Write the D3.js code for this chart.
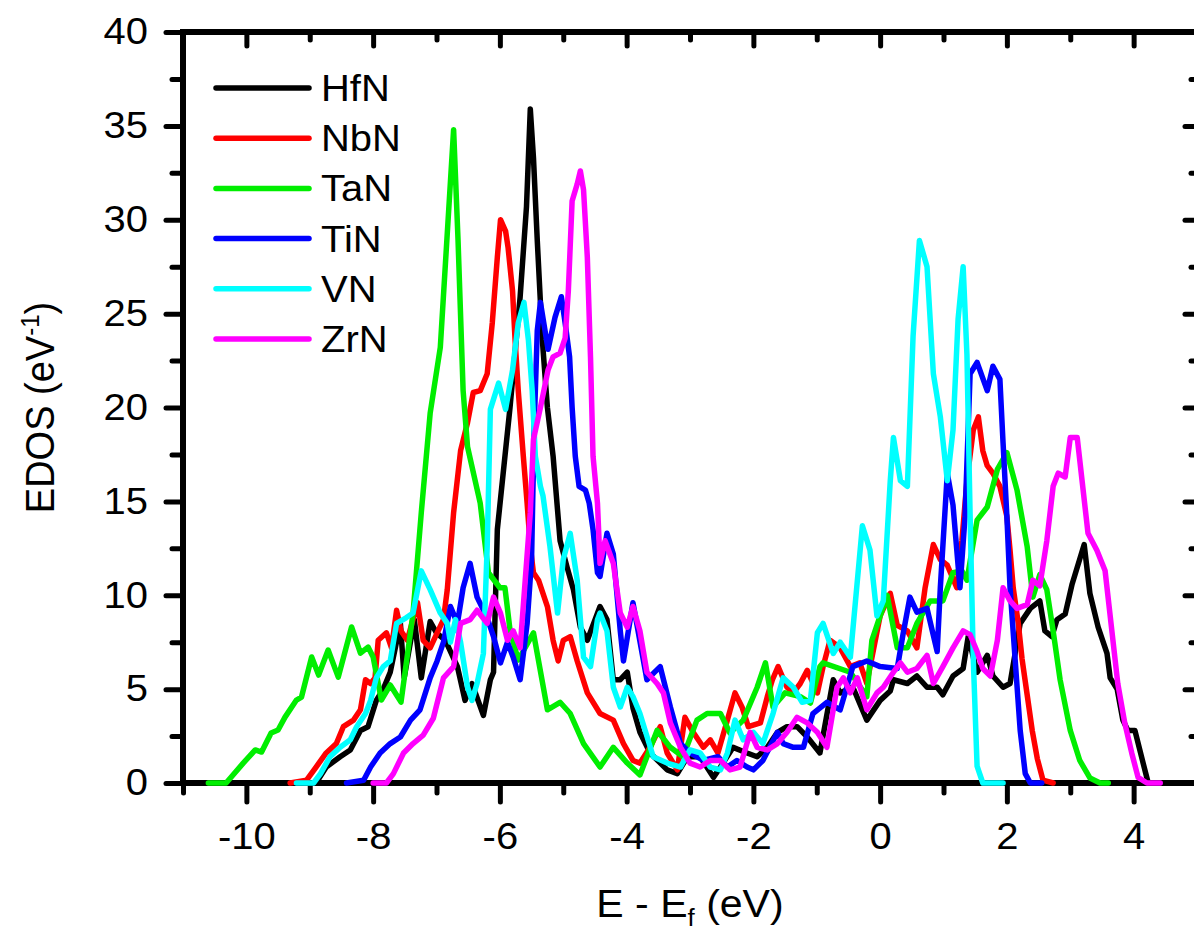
<!DOCTYPE html>
<html>
<head>
<meta charset="utf-8">
<script src="https://cdn.jsdelivr.net/npm/d3@7"></script>
<style>
body{margin:0;background:#fff;}
svg{display:block;font-family:"Liberation Sans",Arial,sans-serif;}
</style>
</head>
<body>
<svg></svg>
<script>
// EDOS data : [E - Ef (eV), EDOS (1/eV)]
const hfn_pts = [[-8.95,0],[-8.90,0],[-8.74,0.85],[-8.52,1.4],[-8.36,1.76],[-8.20,2.8],[-8.08,3.0],[-7.95,4.4],[-7.84,5.0],[-7.73,5.9],[-7.57,8.5],[-7.51,5.6],[-7.35,8.7],[-7.24,5.6],[-7.10,8.6],[-7.0,8.0],[-6.86,7.6],[-6.67,6.2],[-6.55,4.4],[-6.44,5.3],[-6.26,3.6],[-6.15,5.5],[-6.10,5.9],[-6.04,13.5],[-5.84,20.0],[-5.68,25.9],[-5.58,30.7],[-5.52,35.9],[-5.47,33.3],[-5.41,28.9],[-5.33,23.6],[-5.25,20.0],[-5.16,17.4],[-5.05,12.9],[-4.94,11.5],[-4.84,10.3],[-4.73,8.3],[-4.62,7.6],[-4.42,9.4],[-4.31,8.7],[-4.21,5.5],[-4.10,5.5],[-3.99,5.9],[-3.90,4.0],[-3.79,2.7],[-3.63,1.6],[-3.36,0.7],[-3.20,0.5],[-3.04,1.4],[-2.84,1.4],[-2.63,0.3],[-2.52,0.85],[-2.32,1.9],[-2.10,1.6],[-1.94,1.4],[-1.78,1.9],[-1.62,2.7],[-1.47,3.0],[-1.31,3.0],[-1.15,2.45],[-0.95,1.6],[-0.74,5.5],[-0.63,4.8],[-0.43,5.1],[-0.21,3.35],[0,4.4],[0.16,4.9],[0.21,5.5],[0.43,5.3],[0.58,5.7],[0.74,5.1],[0.90,5.1],[0.99,4.7],[1.15,5.7],[1.31,6.1],[1.39,7.8],[1.53,5.9],[1.69,6.8],[1.78,5.7],[1.94,5.1],[2.05,5.3],[2.21,8.5],[2.37,9.3],[2.52,9.7],[2.60,8.1],[2.71,7.8],[2.79,8.7],[2.92,9.0],[3.03,10.6],[3.22,12.7],[3.31,10.1],[3.44,8.3],[3.58,6.9],[3.63,5.6],[3.74,5.0],[3.83,3.35],[3.91,2.8],[4.02,2.8],[4.15,1.06],[4.23,0]];
const nbn_pts = [[-9.31,0],[-9.05,0.15],[-8.9,0.85],[-8.74,1.6],[-8.58,2.1],[-8.47,3.0],[-8.31,3.35],[-8.20,3.9],[-8.12,5.5],[-8.04,5.3],[-7.97,5.6],[-7.92,7.6],[-7.79,8.0],[-7.71,7.2],[-7.63,9.2],[-7.56,8.1],[-7.46,7.6],[-7.30,9.6],[-7.21,7.6],[-7.10,7.2],[-6.99,8.0],[-6.89,8.7],[-6.83,10.3],[-6.73,14.4],[-6.62,17.7],[-6.51,19.2],[-6.42,20.8],[-6.31,20.9],[-6.20,21.8],[-6.12,24.5],[-6.04,28.0],[-5.99,30.0],[-5.91,29.4],[-5.87,28.5],[-5.80,26.2],[-5.76,23.6],[-5.71,20.9],[-5.63,17.4],[-5.57,14.9],[-5.52,12.6],[-5.47,11.2],[-5.39,10.8],[-5.25,9.4],[-5.16,7.6],[-5.08,6.5],[-5.0,7.6],[-4.89,7.8],[-4.78,6.5],[-4.62,4.8],[-4.42,3.7],[-4.21,3.35],[-4.05,2.1],[-3.90,1.2],[-3.79,1.06],[-3.63,1.9],[-3.47,3.0],[-3.36,1.6],[-3.20,0.7],[-3.08,3.5],[-2.95,2.7],[-2.79,1.9],[-2.68,2.3],[-2.56,1.6],[-2.41,3.35],[-2.29,4.8],[-2.18,4.05],[-2.08,3.0],[-1.89,3.2],[-1.78,4.6],[-1.70,5.5],[-1.61,6.2],[-1.47,5.1],[-1.37,4.8],[-1.26,5.3],[-1.15,6.0],[-0.99,4.8],[-0.90,6.2],[-0.79,7.6],[-0.63,7.2],[-0.47,6.2],[-0.32,6.4],[-0.21,5.3],[0,8.9],[0.16,10.1],[0.27,8.4],[0.43,8.1],[0.58,7.2],[0.71,10.4],[0.84,12.7],[0.95,11.9],[1.06,11.6],[1.21,10.4],[1.29,12.9],[1.37,16.1],[1.47,18.8],[1.55,19.5],[1.62,17.7],[1.69,16.9],[1.78,16.5],[1.89,15.8],[2.0,14.2],[2.05,12.4],[2.10,10.4],[2.18,8.5],[2.24,6.6],[2.32,4.7],[2.40,2.8],[2.48,1.3],[2.57,0.15],[2.73,0]];
const tan_pts = [[-10.6,0],[-10.32,0],[-10.05,1.06],[-9.86,1.76],[-9.76,1.65],[-9.61,2.66],[-9.50,2.82],[-9.39,3.51],[-9.21,4.42],[-9.13,4.58],[-8.97,6.71],[-8.86,5.75],[-8.71,7.08],[-8.55,5.64],[-8.34,8.31],[-8.20,6.92],[-8.08,7.24],[-8.0,6.71],[-7.87,4.42],[-7.73,5.22],[-7.56,4.31],[-7.37,9.05],[-7.24,14.4],[-7.10,19.7],[-6.94,23.2],[-6.73,34.8],[-6.66,28.9],[-6.58,20.9],[-6.51,17.9],[-6.31,14.9],[-6.18,11.2],[-6.0,10.4],[-5.92,10.4],[-5.84,8.15],[-5.71,6.55],[-5.47,8.0],[-5.25,3.9],[-5.05,4.3],[-4.89,3.7],[-4.68,2.1],[-4.42,0.85],[-4.21,1.9],[-3.99,1.06],[-3.79,0.43],[-3.52,2.8],[-3.31,1.9],[-3.11,1.4],[-2.89,3.35],[-2.73,3.7],[-2.52,3.7],[-2.37,2.66],[-2.16,3.35],[-1.94,5.1],[-1.81,6.4],[-1.69,4.05],[-1.50,4.8],[-1.26,4.6],[-1.10,4.26],[-0.95,6.2],[-0.90,6.4],[-0.47,5.9],[-0.21,4.6],[-0.13,7.6],[0.11,10.0],[0.27,7.2],[0.43,7.2],[0.58,8.5],[0.79,9.7],[0.99,9.7],[1.15,11.2],[1.29,11.3],[1.37,10.8],[1.53,14.0],[1.69,14.7],[1.85,16.7],[2.0,17.6],[2.16,15.6],[2.32,12.6],[2.41,9.9],[2.52,11.1],[2.63,10.3],[2.73,8.1],[2.84,5.5],[3.0,2.8],[3.15,1.2],[3.31,0.27],[3.47,0],[3.6,0]];
const tin_pts = [[-8.42,0],[-8.15,0.15],[-8.04,0.85],[-7.89,1.6],[-7.73,2.1],[-7.57,2.45],[-7.41,3.35],[-7.26,3.9],[-7.10,5.6],[-6.99,6.5],[-6.89,7.5],[-6.78,9.4],[-6.67,8.5],[-6.58,10.4],[-6.47,11.7],[-6.36,9.9],[-6.20,8.8],[-6.10,7.8],[-5.99,6.4],[-5.88,7.5],[-5.79,6.7],[-5.68,5.5],[-5.57,8.5],[-5.50,11.9],[-5.46,18.8],[-5.41,24.1],[-5.36,25.6],[-5.24,23.1],[-5.13,24.8],[-5.03,25.9],[-4.97,24.5],[-4.90,22.7],[-4.86,20.0],[-4.81,17.4],[-4.75,15.8],[-4.65,15.6],[-4.59,14.9],[-4.53,13.5],[-4.46,11.2],[-4.42,11.0],[-4.31,13.3],[-4.21,12.2],[-4.10,8.1],[-4.05,6.5],[-3.90,9.6],[-3.68,5.5],[-3.47,6.2],[-3.31,4.05],[-3.15,2.1],[-3.0,1.6],[-2.79,1.2],[-2.56,1.4],[-2.41,0.85],[-2.26,1.2],[-2.10,0.85],[-2.0,0.7],[-1.85,1.2],[-1.62,2.7],[-1.53,2.1],[-1.37,1.9],[-1.21,1.9],[-1.06,3.7],[-0.84,4.3],[-0.63,3.9],[-0.43,6.2],[-0.21,6.5],[0,6.2],[0.27,6.1],[0.36,7.9],[0.47,9.9],[0.58,9.1],[0.74,9.3],[0.90,7.0],[0.95,10.4],[1.06,16.5],[1.15,14.8],[1.26,10.4],[1.34,14.2],[1.42,21.8],[1.53,22.4],[1.69,20.9],[1.78,22.2],[1.89,21.5],[1.94,18.1],[2.0,14.2],[2.05,10.4],[2.13,6.6],[2.21,2.8],[2.29,0.5],[2.37,0],[2.55,0]];
const vn_pts = [[-9.21,0],[-8.94,0],[-8.83,0.5],[-8.68,1.4],[-8.52,1.9],[-8.36,2.3],[-8.26,3.0],[-8.12,3.7],[-8.04,4.4],[-7.95,5.6],[-7.84,6.2],[-7.73,6.5],[-7.63,8.5],[-7.48,8.8],[-7.37,9.05],[-7.24,11.3],[-7.10,10.3],[-6.94,9.05],[-6.83,8.5],[-6.78,7.5],[-6.70,8.7],[-6.62,7.5],[-6.51,5.1],[-6.44,4.4],[-6.36,5.3],[-6.26,6.9],[-6.20,12.6],[-6.15,19.9],[-6.02,21.3],[-5.91,19.9],[-5.80,22.0],[-5.71,24.5],[-5.62,25.6],[-5.55,23.6],[-5.49,20.9],[-5.44,17.4],[-5.36,15.8],[-5.32,15.3],[-5.21,12.6],[-5.09,9.05],[-5.0,11.9],[-4.89,13.3],[-4.78,10.8],[-4.68,6.7],[-4.57,6.2],[-4.46,8.7],[-4.42,9.05],[-4.31,8.1],[-4.21,5.1],[-4.10,4.05],[-3.99,5.1],[-3.90,4.6],[-3.79,3.7],[-3.58,1.4],[-3.36,1.06],[-3.15,0.85],[-3.0,1.76],[-2.84,1.6],[-2.68,0.85],[-2.52,0.7],[-2.41,1.6],[-2.29,3.35],[-2.16,2.3],[-2.0,2.7],[-1.85,2.1],[-1.69,3.7],[-1.53,5.6],[-1.37,5.1],[-1.23,4.3],[-1.10,4.4],[-0.99,8.0],[-0.90,8.5],[-0.74,6.9],[-0.63,7.5],[-0.47,6.7],[-0.28,13.7],[-0.16,12.4],[-0.05,8.9],[0.05,9.7],[0.16,16.1],[0.21,18.4],[0.32,16.1],[0.43,15.8],[0.52,23.8],[0.62,28.9],[0.74,27.5],[0.84,21.8],[0.95,19.5],[1.06,16.1],[1.15,18.8],[1.23,24.7],[1.31,27.5],[1.37,22.8],[1.42,14.2],[1.47,6.6],[1.53,0.9],[1.62,0],[1.94,0]];
const zrn_pts = [[-8.0,0],[-7.79,0],[-7.68,0.5],[-7.52,1.6],[-7.37,2.1],[-7.21,2.55],[-7.05,3.45],[-6.89,5.6],[-6.73,6.2],[-6.62,8.5],[-6.47,8.7],[-6.36,9.2],[-6.20,8.5],[-6.10,9.9],[-5.99,9.05],[-5.88,7.6],[-5.79,8.1],[-5.68,7.2],[-5.60,10.8],[-5.52,14.4],[-5.47,18.3],[-5.36,20.0],[-5.24,22.0],[-5.16,22.7],[-5.05,22.9],[-4.97,23.7],[-4.92,26.2],[-4.86,31.0],[-4.78,31.9],[-4.73,32.6],[-4.68,31.6],[-4.62,28.0],[-4.57,22.7],[-4.53,17.4],[-4.46,14.9],[-4.42,11.7],[-4.34,12.9],[-4.21,11.7],[-4.10,9.05],[-3.99,8.3],[-3.90,9.4],[-3.79,8.1],[-3.68,5.9],[-3.52,5.3],[-3.42,4.8],[-3.31,3.2],[-3.15,1.9],[-3.0,1.06],[-2.84,0.85],[-2.68,1.2],[-2.52,1.2],[-2.37,0.7],[-2.21,0.85],[-2.05,2.7],[-1.94,1.9],[-1.78,1.76],[-1.62,2.1],[-1.47,2.7],[-1.31,3.5],[-1.15,3.2],[-0.99,2.7],[-0.84,1.9],[-0.68,5.1],[-0.58,5.6],[-0.47,4.8],[-0.36,5.6],[-0.21,3.9],[-0.05,4.8],[0.05,5.1],[0.21,5.9],[0.32,6.4],[0.43,5.9],[0.58,6.1],[0.74,6.8],[0.84,5.3],[0.99,6.2],[1.15,7.2],[1.31,8.1],[1.42,7.9],[1.53,7.0],[1.62,6.1],[1.74,5.7],[1.85,7.6],[1.94,10.4],[2.05,9.7],[2.16,9.3],[2.32,9.5],[2.41,10.8],[2.52,10.5],[2.63,12.9],[2.73,15.8],[2.81,16.5],[2.92,16.3],[3.0,18.4],[3.11,18.4],[3.19,16.0],[3.28,13.3],[3.42,12.4],[3.55,11.3],[3.66,8.0],[3.75,5.3],[3.86,3.2],[3.97,1.6],[4.07,0.3],[4.21,0],[4.42,0]];

const series_names = ['HfN','NbN','TaN','TiN','VN','ZrN'];
const series_pts = [hfn_pts, nbn_pts, tan_pts, tin_pts, vn_pts, zrn_pts];
const series_colors = ['#000000','#ff0000','#00ee00','#0000ff','#00ffff','#ff00ff'];

const x_major = [-10,-8,-6,-4,-2,0,2,4];
const x_minor = [-11,-9,-7,-5,-3,-1,1,3,5];
const y_major = [0,5,10,15,20,25,30,35,40];
const y_minor = [2.5,7.5,12.5,17.5,22.5,27.5,32.5,37.5];

// 원본 그림이 가로로 약간 늘어나 있어 글자에 같은 비율 적용
const text_sx = 1.08;

// svg 초기화
function init_draw(w,h){
  return d3.select("svg").attr("width",w).attr("height",h);
}
function linear_scale(d_extent,r_extent){
  return d3.scaleLinear().domain(d_extent).range(r_extent);
}
function draw_line(p_obj,x1,x2,y1,y2,w){
  return p_obj.append("line")
    .attr("x1",x1).attr("x2",x2).attr("y1",y1).attr("y2",y2)
    .attr("stroke","#000").attr("stroke-width",w).attr("stroke-linecap","square");
}
// axis 스타일 정리
function style_axis(g,fsize){
  g.select(".domain").remove();
  g.selectAll(".tick line").attr("stroke","#000").attr("stroke-width",5).attr("stroke-linecap","round");
  g.selectAll("text").attr("fill","#000").attr("transform","scale("+text_sx+",1)");
  g.attr("font-size",fsize).attr("font-family","Liberation Sans, Arial, sans-serif");
  return g;
}
function draw_text(p_obj,x,y,text,fsize,anchor="start"){
  return p_obj.append("text")
    .attr("transform","translate("+x+","+y+") scale("+text_sx+",1)")
    .attr("font-size",fsize).attr("fill","#000").attr("text-anchor",anchor).text(text);
}

const W = 1194, H = 930;
const svg = init_draw(W,H);
const x_scale = linear_scale([-11,5],[183,1197]);
const y_scale = linear_scale([0,40],[783,32]);
const x0 = x_scale.range()[0], x1 = x_scale.range()[1];
const y0 = y_scale.range()[0], y1 = y_scale.range()[1];

// bottom axis (major / minor)
style_axis(svg.append("g").attr("transform","translate(0,"+y0+")")
  .call(d3.axisBottom(x_scale).tickValues(x_major).tickSize(19).tickPadding(21).tickFormat(d=>String(d))),37);
style_axis(svg.append("g").attr("transform","translate(0,"+y0+")")
  .call(d3.axisBottom(x_scale).tickValues(x_minor).tickSize(10).tickFormat("")),37);
// top axis, ticks inward
style_axis(svg.append("g").attr("transform","translate(0,"+y1+")")
  .call(d3.axisBottom(x_scale).tickValues(x_major).tickSize(14).tickFormat("")),37);
style_axis(svg.append("g").attr("transform","translate(0,"+y1+")")
  .call(d3.axisBottom(x_scale).tickValues(x_minor).tickSize(8).tickFormat("")),37);
// left axis
style_axis(svg.append("g").attr("transform","translate("+x0+",0)")
  .call(d3.axisLeft(y_scale).tickValues(y_major).tickSize(17).tickPadding(15.5).tickFormat(d=>String(d))),37);
style_axis(svg.append("g").attr("transform","translate("+x0+",0)")
  .call(d3.axisLeft(y_scale).tickValues(y_minor).tickSize(11).tickFormat("")),37);
// right axis, ticks inward
style_axis(svg.append("g").attr("transform","translate("+x1+",0)")
  .call(d3.axisLeft(y_scale).tickValues(y_major).tickSize(12).tickFormat("")),37);
style_axis(svg.append("g").attr("transform","translate("+x1+",0)")
  .call(d3.axisLeft(y_scale).tickValues(y_minor).tickSize(6).tickFormat("")),37);

// frame
draw_line(svg,x0,x0,y1,y0,6);
draw_line(svg,x1,x1,y1,y0,6);
draw_line(svg,x0,x1,y0,y0,6);
draw_line(svg,x0,x1,y1,y1,6);

// series lines
const line_gen = d3.line().x(d=>x_scale(d[0])).y(d=>y_scale(d[1]));
svg.append("g").selectAll("path").data(series_pts).enter()
  .append("path")
  .attr("d",d=>line_gen(d))
  .attr("fill","none")
  .attr("stroke",(d,i)=>series_colors[i])
  .attr("stroke-width",5.5)
  .attr("stroke-linejoin","round")
  .attr("stroke-linecap","round");

// legend
const leg = svg.append("g").attr("class","legend");
series_names.forEach((nm,i)=>{
  let ly = 88 + i*50.2;
  leg.append("line").attr("x1",216).attr("x2",309).attr("y1",ly).attr("y2",ly)
    .attr("stroke",series_colors[i]).attr("stroke-width",5.5).attr("stroke-linecap","round");
  draw_text(leg,321,ly+13,nm,37);
});

// axis titles
const xt = draw_text(svg,(x0+x1)/2,917,"",38,"middle");
xt.append("tspan").text("E - E");
xt.append("tspan").attr("font-size",24).attr("dy",9).text("f");
xt.append("tspan").attr("dy",-9).text(" (eV)");

const yt = svg.append("text")
  .attr("transform","translate(54,"+((y0+y1)/2)+") scale("+text_sx+",1) rotate(-90)")
  .attr("text-anchor","middle").attr("font-size",38).attr("fill","#000");
yt.append("tspan").text("EDOS (eV");
yt.append("tspan").attr("font-size",24).attr("dy",-14).text("-1");
yt.append("tspan").attr("dy",14).text(")");
</script>
</body>
</html>
